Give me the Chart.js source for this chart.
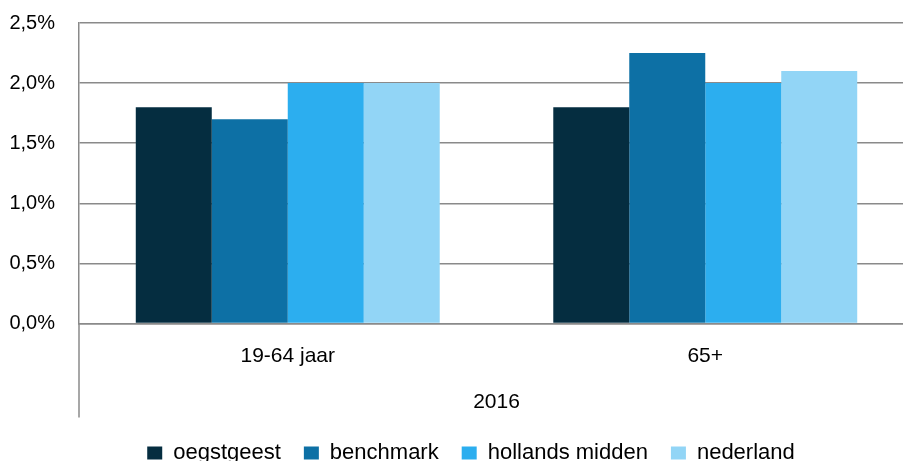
<!DOCTYPE html>
<html>
<head>
<meta charset="utf-8">
<script src="https://cdn.jsdelivr.net/npm/chart.js@4/dist/chart.umd.min.js"></script>
<style>
html,body{margin:0;padding:0;background:#fff;overflow:hidden;}
#wrap{width:920px;height:461px;}
</style>
</head>
<body>
<div id="wrap"><canvas id="c" width="920" height="461"></canvas></div>
<script>
const categories = ["19-64 jaar", "65+"];
const groupTitle = "2016";
const seriesNames = ["oegstgeest", "benchmark", "hollands midden", "nederland"];
const oegstgeest = [1.8, 1.8];
const benchmark = [1.7, 2.25];
const hollandsMidden = [2.0, 2.0];
const nederland = [2.0, 2.1];
const yTicks = [0, 0.5, 1.0, 1.5, 2.0, 2.5];
const colors = ["#052D40", "#0D70A5", "#2CAEEF", "#92D5F6"];

const seriesValues = [oegstgeest, benchmark, hollandsMidden, nederland];
const FONT = "'Liberation Sans', Arial, sans-serif";
const GRID = "#8a8a8a";

const extendAxis = {
  id: 'extendAxis',
  afterLayout(chart) {
    if (chart.legend) { chart.legend.left += 14; chart.legend.right += 14; }
  },
  afterDraw(chart) {
    const ctx = chart.ctx, a = chart.chartArea;
    ctx.save();
    ctx.strokeStyle = GRID;
    ctx.lineWidth = 1.5;
    ctx.beginPath();
    ctx.moveTo(a.left, a.bottom);
    ctx.lineTo(a.left, a.bottom + 94);
    ctx.stroke();
    ctx.restore();
  }
};

new Chart(document.getElementById('c'), {
  type: 'bar',
  data: {
    labels: categories,
    datasets: seriesNames.map((n, i) => ({
      label: n,
      data: seriesValues[i],
      backgroundColor: colors[i],
      borderWidth: 0,
      categoryPercentage: 0.728,
      barPercentage: 1.0
    }))
  },
  options: {
    responsive: false,
    animation: false,
    layout: { padding: { left: 0, right: 6, top: 23, bottom: -13 } },
    plugins: {
      legend: {
        position: 'bottom',
        labels: {
          font: { family: FONT, size: 22 },
          color: '#000',
          boxWidth: 15,
          boxHeight: 13,
          padding: 23
        }
      },
      tooltip: { enabled: false }
    },
    scales: {
      x: {
        grid: { display: false, drawTicks: false },
        border: { display: true, color: GRID, width: 1.5 },
        ticks: { font: { family: FONT, size: 21 }, color: '#000', padding: 20 },
        title: { display: true, text: groupTitle, font: { family: FONT, size: 21 }, color: '#000', padding: { top: 1, bottom: 4 } }
      },
      y: {
        min: 0, max: 2.5,
        afterBuildTicks(scale) { scale.ticks = yTicks.map(v => ({ value: v })); },
        afterFit(scale) { scale.width = 79; scale.paddingTop = 0; scale.paddingBottom = 0; },
        grid: { color: GRID, lineWidth: 1.5, drawTicks: false },
        border: { display: true, color: GRID, width: 1.5 },
        ticks: {
          font: { family: FONT, size: 20 }, color: '#000', padding: 24,
          callback: v => v.toFixed(1).replace('.', ',') + '%'
        }
      }
    }
  },
  plugins: [extendAxis]
});
</script>
</body>
</html>
